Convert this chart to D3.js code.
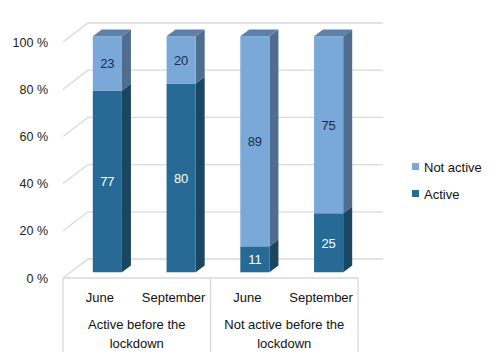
<!DOCTYPE html>
<html><head><meta charset="utf-8">
<script src="https://cdn.jsdelivr.net/npm/d3@7"></script>
<style>body{margin:0;background:#fff}svg{display:block}text{font-family:"Liberation Sans",Arial,sans-serif}</style>
</head><body><svg id="c" width="500" height="363"></svg>
<script>
const categories = ["June","September","June","September"];
const groups = ["Active before the|lockdown","Not active before the|lockdown"];
const active = [77,80,11,25];
const notActive = [23,20,89,75];
const seriesNames = ["Active","Not active"];
const yTicks = [0,20,40,60,80,100];

const svg = d3.select("#c");
const x0 = 63, x1 = 358;
const y = d3.scaleLinear().domain([0,100]).range([278,42]);
const x = d3.scaleBand().domain(d3.range(categories.length)).range([x0,x1]).paddingInner(0).paddingOuter(0);
const DX = 25, DY = -19;
const P = (px,py,d)=>[px+DX*d, py+DY*d];
const grid = "#d9d9d9";

// walls gridlines
yTicks.forEach(t=>{
  const a = P(x0,y(t),0), b = P(x0,y(t),1), c = P(x1,y(t),1);
  svg.append("path").attr("d",`M${a}L${b}L${c}`).attr("fill","none").attr("stroke",grid).attr("stroke-width",1.3);
  svg.append("text").attr("x",48).attr("y",y(t)+4.5).attr("text-anchor","end").attr("font-size",12.5).attr("fill","#222").text(t+" %");
});
// floor front edge
svg.append("path").attr("d",`M${P(x0,y(0),0)}L${P(x1,y(0),0)}`).attr("fill","none").attr("stroke",grid).attr("stroke-width",1.3);
// category box lines
[x0, x0+(x1-x0)/2, x1].forEach(v=>{
  svg.append("line").attr("x1",v).attr("x2",v).attr("y1",y(0)).attr("y2",352).attr("stroke",grid).attr("stroke-width",1.3);
});

const d1 = 0.3, d2 = 0.66, bw = x.bandwidth()*0.395;
const colors = {
  Active:{front:"#266a95",side:"#1b4661",top:"#1f5578",label:"#ffffff"},
  "Not active":{front:"#7aa8d8",side:"#4f6d8f",top:"#5c80a8",label:"#1c2b4a"}
};
function poly(pts){return "M"+pts.map(p=>p.join(",")).join("L")+"Z";}

categories.forEach((cat,i)=>{
  const cx = x(i)+x.bandwidth()/2;
  const l = cx-bw/2, r = cx+bw/2;
  const segs = [[seriesNames[0],0,active[i]],[seriesNames[1],active[i],active[i]+notActive[i]]];
  segs.forEach(([name,a,b],k)=>{
    const col = colors[name];
    const ya = y(a), yb = y(b);
    svg.append("path").attr("d",poly([P(r,ya,d1),P(r,ya,d2),P(r,yb,d2),P(r,yb,d1)])).attr("fill",col.side);
    svg.append("path").attr("d",poly([P(l,ya,d1),P(r,ya,d1),P(r,yb,d1),P(l,yb,d1)])).attr("fill",col.front);
    if(k===segs.length-1){
      svg.append("path").attr("d",poly([P(l,yb,d1),P(r,yb,d1),P(r,yb,d2),P(l,yb,d2)])).attr("fill",col.top);
    }
    const v = b-a;
    const c = P(cx,(ya+yb)/2,d1);
    svg.append("text").attr("x",c[0]).attr("y",c[1]+5).attr("text-anchor","middle").attr("font-size",13).attr("fill",col.label).text(v);
  });
  svg.append("text").attr("x",cx).attr("y",302).attr("text-anchor","middle").attr("font-size",13).attr("fill","#111").text(cat);
});
groups.forEach((g,j)=>{
  const cx = x0+(x1-x0)/4*(2*j+1);
  g.split("|").forEach((line,k)=>{
    svg.append("text").attr("x",cx).attr("y",329+k*18.5).attr("text-anchor","middle").attr("font-size",13).attr("fill","#111").text(line);
  });
});
// legend
[["Not active",167],["Active",194]].forEach(([n,ly])=>{
  svg.append("rect").attr("x",412).attr("y",ly-4).attr("width",7).attr("height",7).attr("fill",colors[n].front);
  svg.append("text").attr("x",424).attr("y",ly+4.5).attr("font-size",13).attr("fill","#111").text(n);
});
</script></body></html>
